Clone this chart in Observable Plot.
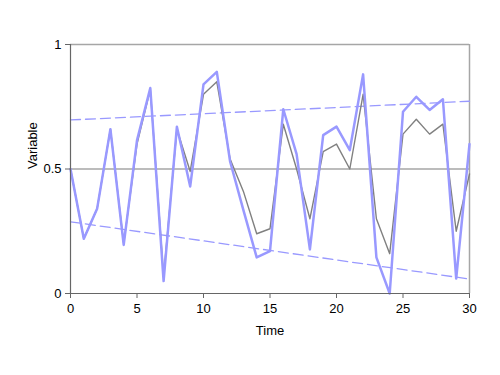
<!DOCTYPE html>
<html>
<head>
<meta charset="utf-8">
<script src="https://cdn.jsdelivr.net/npm/d3@7"></script>
<script src="https://cdn.jsdelivr.net/npm/@observablehq/plot@0.6"></script>
<style>
  html, body { margin: 0; padding: 0; background: #fff; }
  #chart { width: 500px; height: 375px; }
</style>
</head>
<body>
<div id="chart"></div>
<script>
const time = d3.range(0, 31);
const grayValues = [0.50, 0.22, 0.34, 0.66, 0.20, 0.60, 0.82, 0.07, 0.66, 0.49,
  0.80, 0.85, 0.54, 0.41, 0.24, 0.26, 0.68, 0.50, 0.30, 0.57,
  0.60, 0.50, 0.80, 0.30, 0.16, 0.64, 0.70, 0.64, 0.68, 0.25, 0.48];
const blueValues = [0.50, 0.22, 0.34, 0.66, 0.195, 0.615, 0.825, 0.05, 0.67, 0.43,
  0.84, 0.89, 0.53, 0.335, 0.145, 0.17, 0.74, 0.56, 0.177, 0.636,
  0.67, 0.576, 0.88, 0.145, 0.0, 0.73, 0.79, 0.737, 0.78, 0.06, 0.60];
const upperTrend = [{t: 0, v: 0.697}, {t: 30, v: 0.772}];
const lowerTrend = [{t: 0, v: 0.288}, {t: 30, v: 0.058}];
const xTicks = [0, 5, 10, 15, 20, 25, 30];
const yTicks = [0, 0.5, 1];

const gray = time.map((t, i) => ({t, v: grayValues[i]}));
const blue = time.map((t, i) => ({t, v: blueValues[i]}));

const chart = Plot.plot({
  width: 500,
  height: 375,
  marginLeft: 70,
  marginRight: 31,
  marginTop: 44,
  marginBottom: 82,
  style: {fontFamily: "Liberation Sans, Arial, sans-serif", fontSize: "13px", color: "#000", background: "#fff"},
  x: {domain: [0, 30], ticks: xTicks, tickFormat: d => String(d), label: null},
  y: {domain: [0, 1], ticks: yTicks, tickFormat: d => String(d), label: null},
  marks: [
    Plot.ruleY([0.5, 1], {stroke: "#a6a6a6", strokeWidth: 1.5}),
    Plot.ruleX([30], {stroke: "#a6a6a6", strokeWidth: 1.5}),
    Plot.line(upperTrend, {x: "t", y: "v", stroke: "#9999ff", strokeWidth: 1.3, strokeDasharray: "10,5"}),
    Plot.line(lowerTrend, {x: "t", y: "v", stroke: "#9999ff", strokeWidth: 1.3, strokeDasharray: "10,5"}),
    Plot.line(gray, {x: "t", y: "v", stroke: "#808080", strokeWidth: 1.4}),
    Plot.line(blue, {x: "t", y: "v", stroke: "#9999ff", strokeWidth: 2.5}),
    Plot.ruleY([0], {stroke: "#666", strokeWidth: 1.2}),
    Plot.ruleX([0], {stroke: "#666", strokeWidth: 1.2}),
    Plot.axisX({ticks: xTicks, tickSize: 5, tickPadding: 5, stroke: "#666", fontSize: 13, tickFormat: d => String(d), label: null}),
    Plot.axisY({ticks: yTicks, tickSize: 5, tickPadding: 4, stroke: "#666", fontSize: 13, tickFormat: d => String(d), label: null}),
    Plot.text(["Time"], {frameAnchor: "bottom", dy: 41, fontSize: 13}),
    Plot.text(["Variable"], {frameAnchor: "left", dx: -38, rotate: -90, fontSize: 13})
  ]
});
document.getElementById("chart").appendChild(chart);
</script>
</body>
</html>
